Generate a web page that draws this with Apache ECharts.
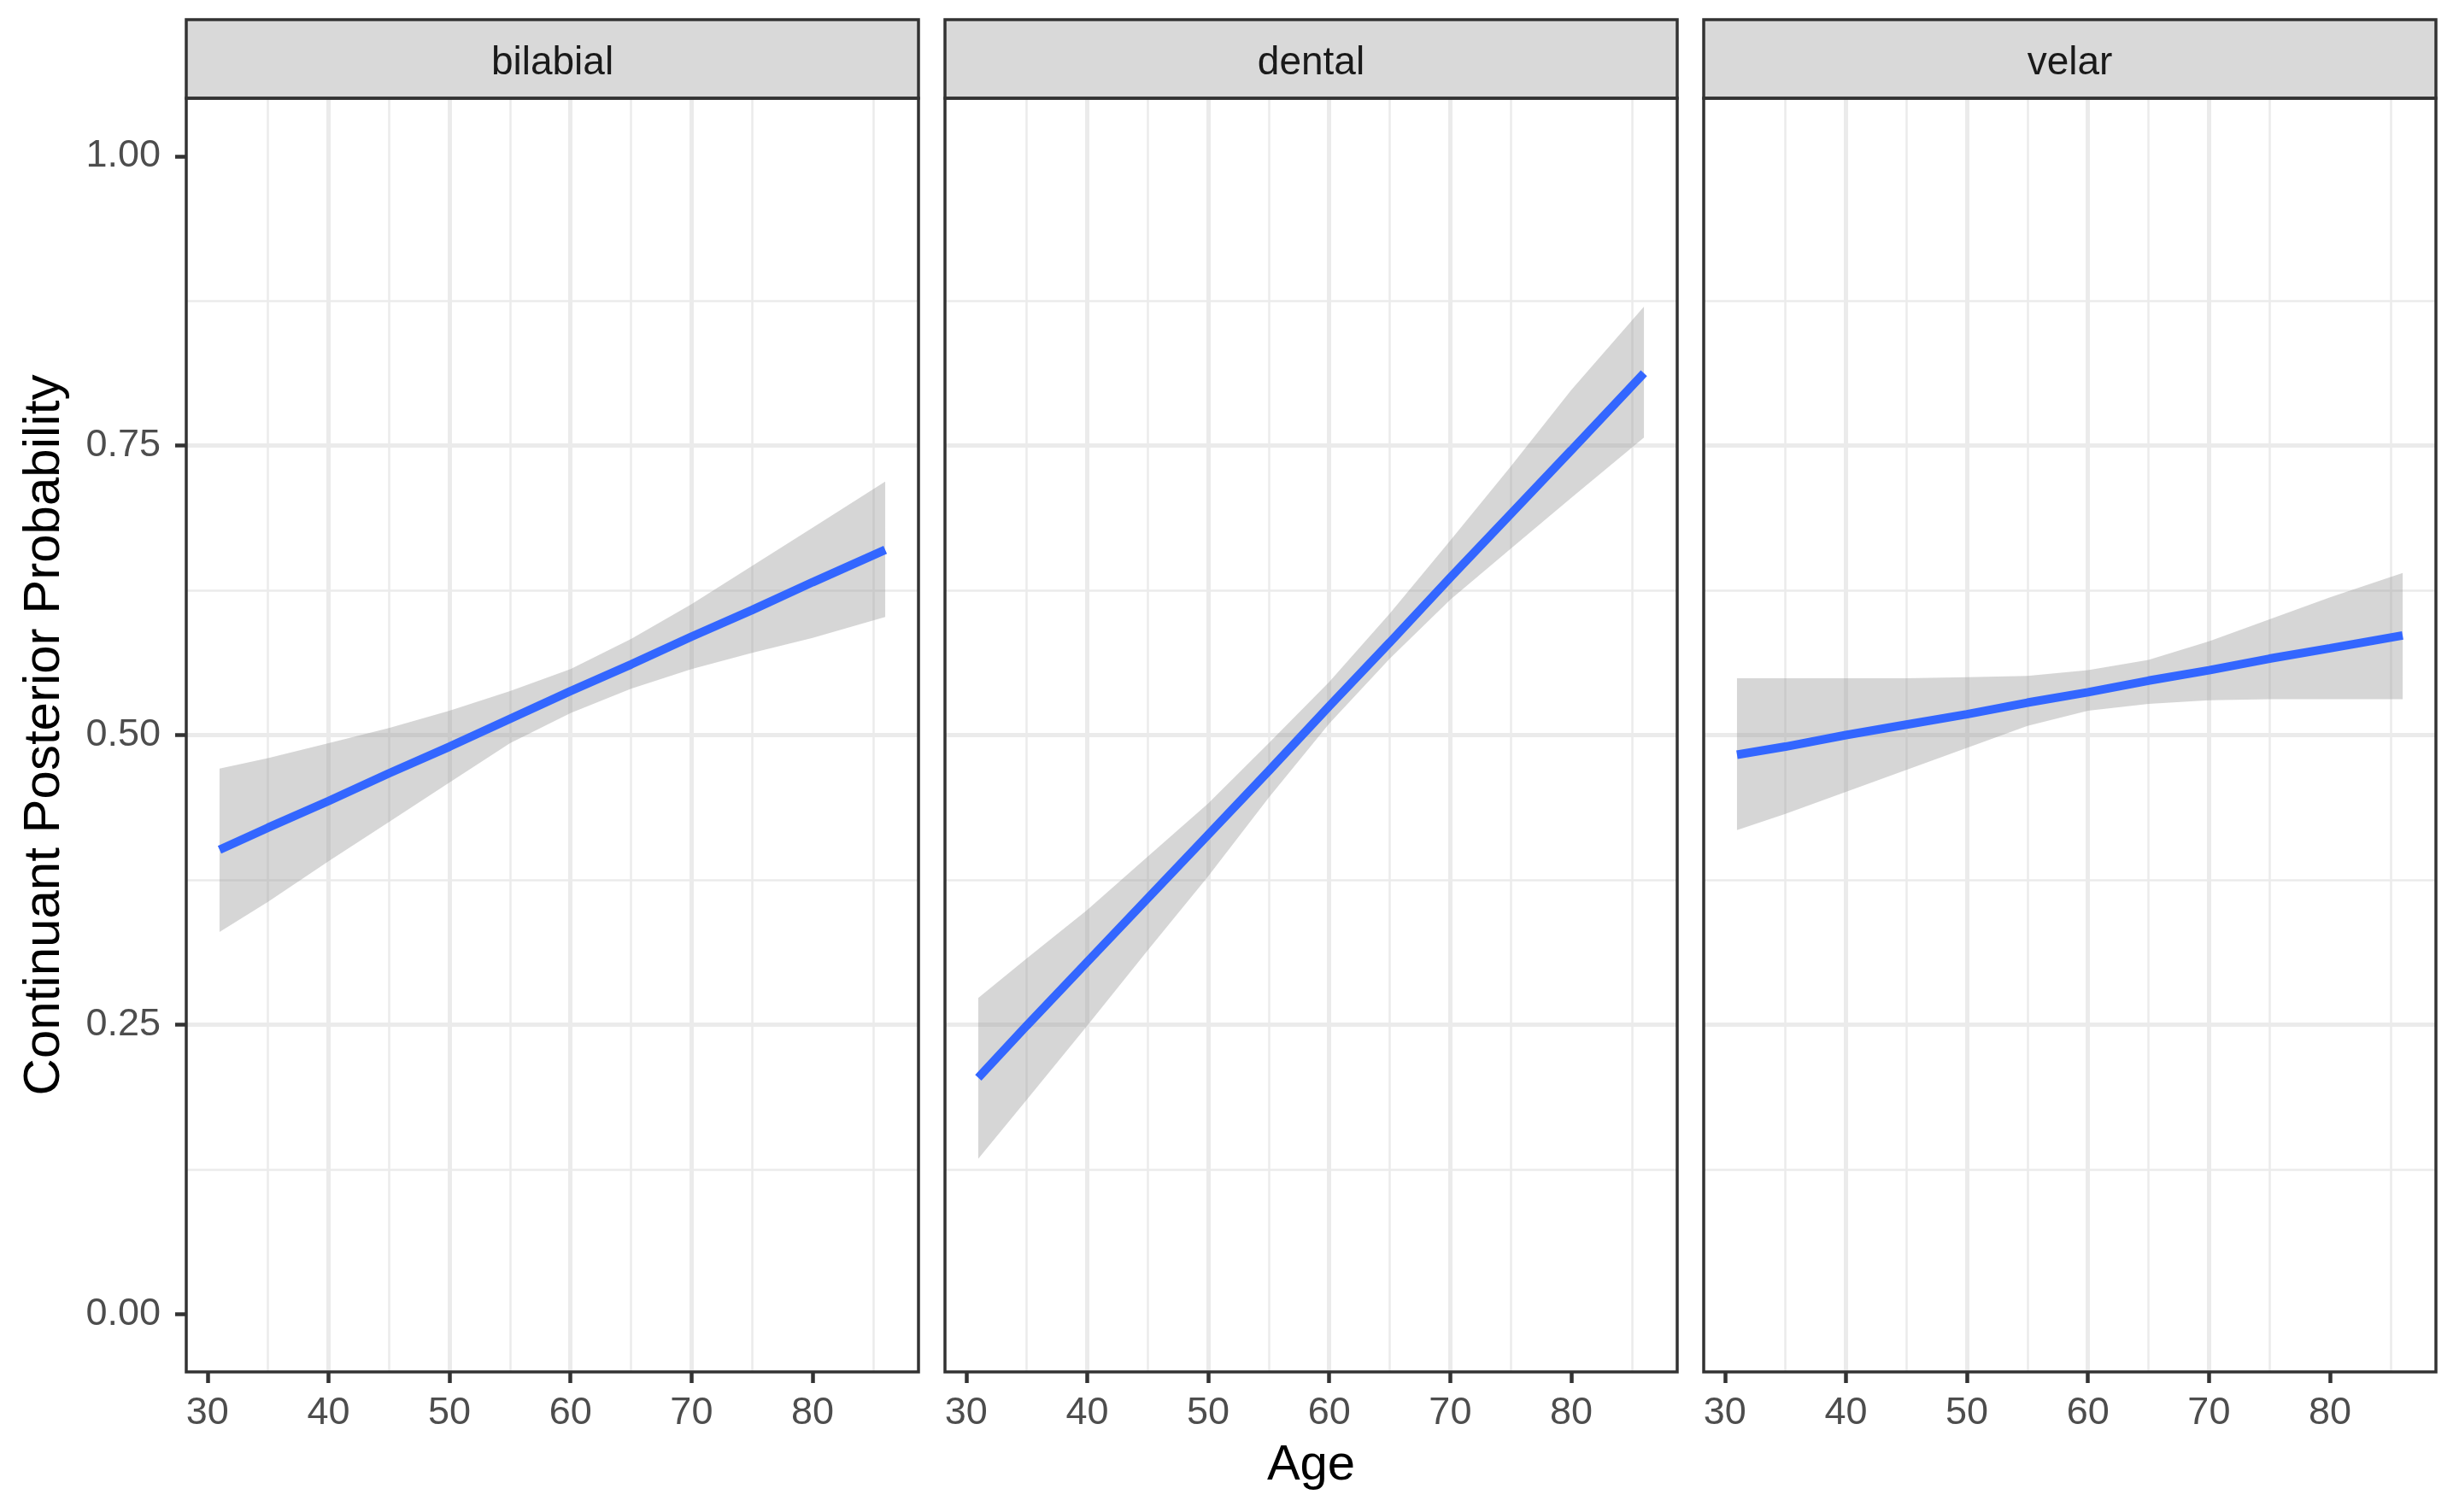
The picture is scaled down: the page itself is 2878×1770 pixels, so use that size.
<!DOCTYPE html>
<html>
<head>
<meta charset="utf-8">
<script src="https://cdn.jsdelivr.net/npm/echarts@6/dist/echarts.min.js"></script>
<style>
html,body{margin:0;padding:0;background:#fff;}
#chart{width:2878px;height:1770px;}
</style>
</head>
<body>
<div id="chart"></div>
<script>
// ---- data ----
const panels = ['bilabial', 'dental', 'velar'];
const ages = [31, 35, 40, 45, 50, 55, 60, 65, 70, 75, 80, 86];

const bilabialFit   = [0.401, 0.420, 0.443, 0.467, 0.490, 0.514, 0.538, 0.561, 0.585, 0.608, 0.632, 0.660];
const bilabialUpper = [0.471, 0.480, 0.493, 0.506, 0.521, 0.538, 0.557, 0.583, 0.613, 0.646, 0.679, 0.719];
const bilabialLower = [0.330, 0.356, 0.391, 0.425, 0.459, 0.493, 0.519, 0.540, 0.557, 0.571, 0.584, 0.602];

const dentalFit   = [0.204, 0.249, 0.304, 0.359, 0.414, 0.469, 0.525, 0.580, 0.636, 0.691, 0.746, 0.8125];
const dentalUpper = [0.273, 0.307, 0.349, 0.395, 0.441, 0.493, 0.546, 0.605, 0.668, 0.732, 0.798, 0.870];
const dentalLower = [0.134, 0.185, 0.249, 0.314, 0.378, 0.446, 0.510, 0.566, 0.617, 0.661, 0.705, 0.757];

const velarFit   = [0.483, 0.490, 0.500, 0.509, 0.518, 0.528, 0.537, 0.547, 0.556, 0.566, 0.575, 0.586];
const velarUpper = [0.549, 0.549, 0.549, 0.549, 0.550, 0.551, 0.556, 0.565, 0.581, 0.600, 0.619, 0.640];
const velarLower = [0.418, 0.432, 0.451, 0.470, 0.489, 0.508, 0.521, 0.527, 0.530, 0.531, 0.531, 0.531];

const xTicks = [30, 40, 50, 60, 70, 80];
const yTicks = [0, 0.25, 0.5, 0.75, 1];
const xTitle = 'Age';
const yTitle = 'Continuant Posterior Probability';

// ---- layout ----
const FONT = '"Liberation Sans", Arial, sans-serif';
const gridLefts = [218, 1106, 1994];
const gridTop = 115, gridW = 857, gridH = 1491;
const stripTop = 23, stripH = 92;

const fits = [bilabialFit, dentalFit, velarFit];
const uppers = [bilabialUpper, dentalUpper, velarUpper];
const lowers = [bilabialLower, dentalLower, velarLower];

const grids = [], xAxes = [], yAxes = [], series = [], graphics = [];

panels.forEach((name, i) => {
  grids.push({left: gridLefts[i], top: gridTop, width: gridW, height: gridH, show: true,
    backgroundColor: '#FFFFFF', borderWidth: 0});
  xAxes.push({
    gridIndex: i, type: 'value', min: 28.25, max: 88.75, splitNumber: 6,
    minInterval: 10, maxInterval: 10,
    axisLine: {show: false, onZero: false},
    axisTick: {show: true, length: 13, lineStyle: {color: '#333333', width: 4.5}, customValues: xTicks},
    axisLabel: {show: true, margin: 26, fontSize: 45, color: '#4D4D4D', fontFamily: FONT,
      formatter: v => (xTicks.some(t => Math.abs(t - v) < 1e-6) ? String(Math.round(v)) : '')},
    splitLine: {show: true, showMinLine: false, showMaxLine: false, lineStyle: {color: '#EBEBEB', width: 5}},
    minorTick: {show: false, splitNumber: 2},
    minorSplitLine: {show: true, lineStyle: {color: '#EBEBEB', width: 2.5}}
  });
  yAxes.push({
    gridIndex: i, type: 'value', min: -0.05, max: 1.05, splitNumber: 4,
    minInterval: 0.25, maxInterval: 0.25,
    axisLine: {show: false, onZero: false},
    axisTick: {show: i === 0, length: 13, lineStyle: {color: '#333333', width: 4.5}, customValues: yTicks},
    axisLabel: {show: i === 0, margin: 30, fontSize: 45, color: '#4D4D4D', fontFamily: FONT,
      formatter: v => (yTicks.some(t => Math.abs(t - v) < 1e-6) ? v.toFixed(2) : '')},
    splitLine: {show: true, showMinLine: false, showMaxLine: false, lineStyle: {color: '#EBEBEB', width: 5}},
    minorTick: {show: false, splitNumber: 2},
    minorSplitLine: {show: true, lineStyle: {color: '#EBEBEB', width: 2.5}}
  });

  const bandData = ages.map((a, k) => [a, lowers[i][k], uppers[i][k]]);
  const fit = ages.map((a, k) => [a, fits[i][k]]);

  series.push({
    type: 'custom', name: name + ' ci', xAxisIndex: i, yAxisIndex: i, data: bandData,
    silent: true, z: 2, clip: true,
    encode: {x: 0, y: [1, 2]},
    renderItem: function (params, api) {
      if (params.dataIndex !== 0) return null;
      const upperPts = [], lowerPts = [];
      bandData.forEach(d => {
        upperPts.push(api.coord([d[0], d[2]]));
        lowerPts.push(api.coord([d[0], d[1]]));
      });
      const pts = upperPts.concat(lowerPts.reverse());
      return {type: 'polygon', shape: {points: pts},
        style: {fill: 'rgba(153,153,153,0.4)', stroke: 'none'}};
    }
  });
  series.push({
    type: 'line', name: name, xAxisIndex: i, yAxisIndex: i, data: fit,
    symbol: 'none', silent: true, lineStyle: {color: '#3366FF', width: 10, cap: 'butt'}, z: 3
  });

  // strip
  graphics.push({
    type: 'rect', z: 100, shape: {x: gridLefts[i], y: stripTop, width: gridW, height: stripH},
    style: {fill: '#D9D9D9', stroke: '#333333', lineWidth: 3.5}
  });
  graphics.push({
    type: 'text', z: 101, x: gridLefts[i] + gridW / 2, y: stripTop + stripH / 2 + 5,
    style: {text: name, fill: '#1A1A1A', font: '46px ' + FONT, fontSize: 46, fontFamily: FONT,
      align: 'center', verticalAlign: 'middle', textAlign: 'center', textVerticalAlign: 'middle'}
  });
  // panel border
  graphics.push({
    type: 'rect', z: 100, shape: {x: gridLefts[i], y: gridTop, width: gridW, height: gridH},
    style: {fill: 'none', stroke: '#333333', lineWidth: 3.5}
  });
});

graphics.push({
  type: 'text', z: 101, x: gridLefts[1] + gridW / 2, y: 1716,
  style: {text: xTitle, fill: '#000000', font: '58px ' + FONT, fontSize: 58, fontFamily: FONT,
    align: 'center', verticalAlign: 'middle', textAlign: 'center', textVerticalAlign: 'middle'}
});
graphics.push({
  type: 'text', z: 101, x: 52, y: gridTop + gridH / 2, rotation: Math.PI / 2,
  style: {text: yTitle, fill: '#000000', font: '60px ' + FONT, fontSize: 60, fontFamily: FONT,
    align: 'center', verticalAlign: 'middle', textAlign: 'center', textVerticalAlign: 'middle'}
});

const chart = echarts.init(document.getElementById('chart'), null, {renderer: 'canvas'});
chart.setOption({
  animation: false,
  backgroundColor: '#FFFFFF',
  grid: grids,
  xAxis: xAxes,
  yAxis: yAxes,
  series: series,
  graphic: graphics
});
</script>
</body>
</html>
